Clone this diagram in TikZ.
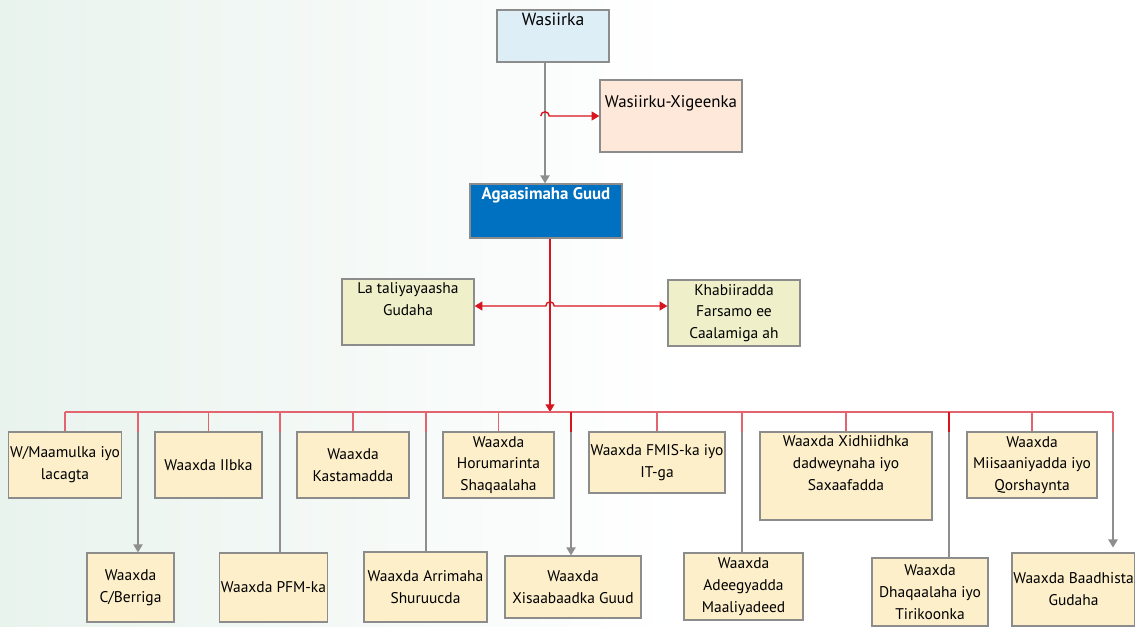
\documentclass[tikz,border=0pt]{standalone}
\usepackage{fontspec}
\setmainfont{PT Sans}
\usetikzlibrary{arrows.meta}

\definecolor{boxline}{HTML}{8C8C8C}
\definecolor{linegrey}{HTML}{8E8E8E}
\definecolor{mainred}{HTML}{D8141E}
\definecolor{busred}{HTML}{E2646E}
\definecolor{ministerfill}{HTML}{DDEEF6}
\definecolor{deputyfill}{HTML}{FDE8DA}
\definecolor{dgfill}{HTML}{0070C0}
\definecolor{advfill}{HTML}{EFF0C9}
\definecolor{deptfill}{HTML}{FCEFC9}
\definecolor{bgmint}{HTML}{E9F3EE}

\begin{document}
\begin{tikzpicture}[x=0.025cm, y=-0.025cm, >=Triangle,
    box/.style={draw=boxline, line width=0.9pt, align=center, inner sep=1pt,
      font=\fontsize{11}{15.5}\selectfont},
    dept/.style={box, fill=deptfill},
    adv/.style={box, fill=advfill},
    toptext/.style={anchor=north, align=center, font=\fontsize{11}{15.5}\selectfont},
    redline/.style={draw=mainred, line width=1pt},
    busline/.style={draw=busred, line width=1pt},
    greyline/.style={draw=linegrey, line width=1.1pt}]

    \useasboundingbox (0,0) rectangle (1135,626);
    \fill[left color=bgmint, right color=white] (0,0) rectangle (680,626);

    % top of the chart
    \node[box, fill=ministerfill, minimum width=2.8cm, minimum height=1.3cm,
      label={[toptext, font=\fontsize{12.5}{15}\selectfont, yshift=0.02cm]north:Wasiirka}] (wasiirka) at (553,36) {};
    \node[box, fill=deputyfill, minimum width=3.55cm, minimum height=1.8cm,
      label={[toptext, font=\fontsize{12}{15}\selectfont, yshift=-0.28cm]north:Wasiirku-Xigeenka}] (xigeen) at (671,116) {};
    \node[box, fill=dgfill, minimum width=3.8cm, minimum height=1.35cm,
      label={[toptext, text=white, font=\fontsize{12}{15}\bfseries\selectfont, yshift=0.02cm]north:Agaasimaha Guud}] (agaasime) at (546,211) {};

    \node[adv, minimum width=3.3cm, minimum height=1.65cm,
      label={[toptext, yshift=0.02cm]north:La taliyayaasha\\Gudaha}] (talin) at (408,312) {};
    \node[adv, minimum width=3.3cm, minimum height=1.65cm] (khabiir) at (734,313) {Khabiiradda\\Farsamo ee\\Caalamiga ah};

    % first row of departments
    \node[dept, minimum width=2.8cm, minimum height=1.65cm] (wmaamul) at (65,465) {W/Maamulka iyo\\lacagta};
    \node[dept, minimum width=2.675cm, minimum height=1.65cm] (iibka) at (208.5,465) {Waaxda IIbka};
    \node[dept, minimum width=2.8cm, minimum height=1.65cm] (kastam) at (353,465) {Waaxda\\Kastamadda};
    \node[dept, minimum width=2.775cm, minimum height=1.65cm] (horumar) at (498.5,465) {Waaxda\\Horumarinta\\Shaqaalaha};
    \node[dept, minimum width=3.4cm, minimum height=1.525cm] (fmis) at (657,462.5) {Waaxda FMIS-ka iyo\\IT-ga};
    \node[dept, minimum width=4.3cm, minimum height=2.2cm,
      label={[toptext, yshift=0.02cm]north:Waaxda Xidhiidhka\\dadweynaha iyo\\Saxaafadda}] (xidhiidh) at (846,476) {};
    \node[dept, minimum width=3.25cm, minimum height=1.65cm] (miisaan) at (1032,465) {Waaxda\\Miisaaniyadda iyo\\Qorshaynta};

    % second row of departments
    \node[dept, minimum width=2.175cm, minimum height=1.725cm] (berri) at (130.5,587.5) {Waaxda\\C/Berriga};
    \node[dept, minimum width=2.625cm, minimum height=1.725cm] (pfm) at (273.5,587.5) {Waaxda PFM-ka};
    \node[dept, minimum width=3.075cm, minimum height=1.75cm] (arrim) at (425.5,587) {Waaxda Arrimaha\\Shuruucda};
    \node[dept, minimum width=3.4cm, minimum height=1.55cm] (xisaab) at (573,587) {Waaxda\\Xisaabaadka Guud};
    \node[dept, minimum width=2.975cm, minimum height=1.675cm] (adeeg) at (743.5,586.5) {Waaxda\\Adeegyadda\\Maaliyadeed};
    \node[dept, minimum width=2.9cm, minimum height=1.7cm] (dhaqaal) at (930,592) {Waaxda\\Dhaqaalaha iyo\\Tirikoonka};
    \node[dept, minimum width=2.975cm, minimum height=1.825cm] (baadhis) at (1073.5,589.5) {Waaxda Baadhista\\Gudaha};

    % points on the lines
    \coordinate (spine) at (545,116);
    \coordinate (hop) at (550,306);
    \coordinate (busM) at (550,412);
    \coordinate (busL) at (65,412);
    \coordinate (busR) at (1113,412);
    \coordinate (d1) at (138,412);
    \coordinate (d2) at (280,412);
    \coordinate (d3) at (426,412);
    \coordinate (d4) at (571,412);
    \coordinate (d5) at (742,412);
    \coordinate (d6) at (949,412);
    \coordinate (d7) at (1113,412);

    % connectors
    \draw[greyline,->] (wasiirka.south -| spine) -- (agaasime.north -| spine);
    \draw[redline,->] ([xshift=-3pt]spine) arc (180:0:3pt) -- (xigeen.west |- spine);
    \draw[redline,->] (agaasime.south -| busM) -- (busM);
    \draw[redline,<->] (talin.east |- hop) -- ([xshift=-3pt]hop) arc (180:0:3pt) -- (khabiir.west |- hop);

    \draw[busline] (busL) -- (busR);
    \draw[busline] (wmaamul.north) -- (wmaamul.north |- busL);
    \draw[busline] (iibka.north) -- (iibka.north |- busL);
    \draw[busline] (kastam.north) -- (kastam.north |- busL);
    \draw[busline] (horumar.north) -- (horumar.north |- busL);
    \draw[busline] (fmis.north) -- (fmis.north |- busL);
    \draw[busline] (xidhiidh.north) -- (xidhiidh.north |- busL);
    \draw[busline] (miisaan.north) -- (miisaan.north |- busL);

    \draw[greyline,->] (d1) -- (berri.north -| d1);
    \draw[greyline] (d2) -- (pfm.north -| d2);
    \draw[greyline] (d3) -- (arrim.north -| d3);
    \draw[greyline,->] (d4) -- (xisaab.north -| d4);
    \draw[greyline] (d5) -- (adeeg.north -| d5);
    \draw[greyline] (d6) -- (dhaqaal.north -| d6);
    \draw[greyline,->] (d7) -- ([yshift=0.12cm]baadhis.north -| d7);
    \draw[busline] (d1) -- ++(0,20);
    \draw[busline] (d2) -- ++(0,20);
    \draw[busline] (d3) -- ++(0,20);
    \draw[redline] (d4) -- ++(0,20);
    \draw[busline] (d5) -- ++(0,20);
    \draw[redline] (d6) -- ++(0,20);
    \draw[busline] (d7) -- ++(0,20);
\end{tikzpicture}
\end{document}
